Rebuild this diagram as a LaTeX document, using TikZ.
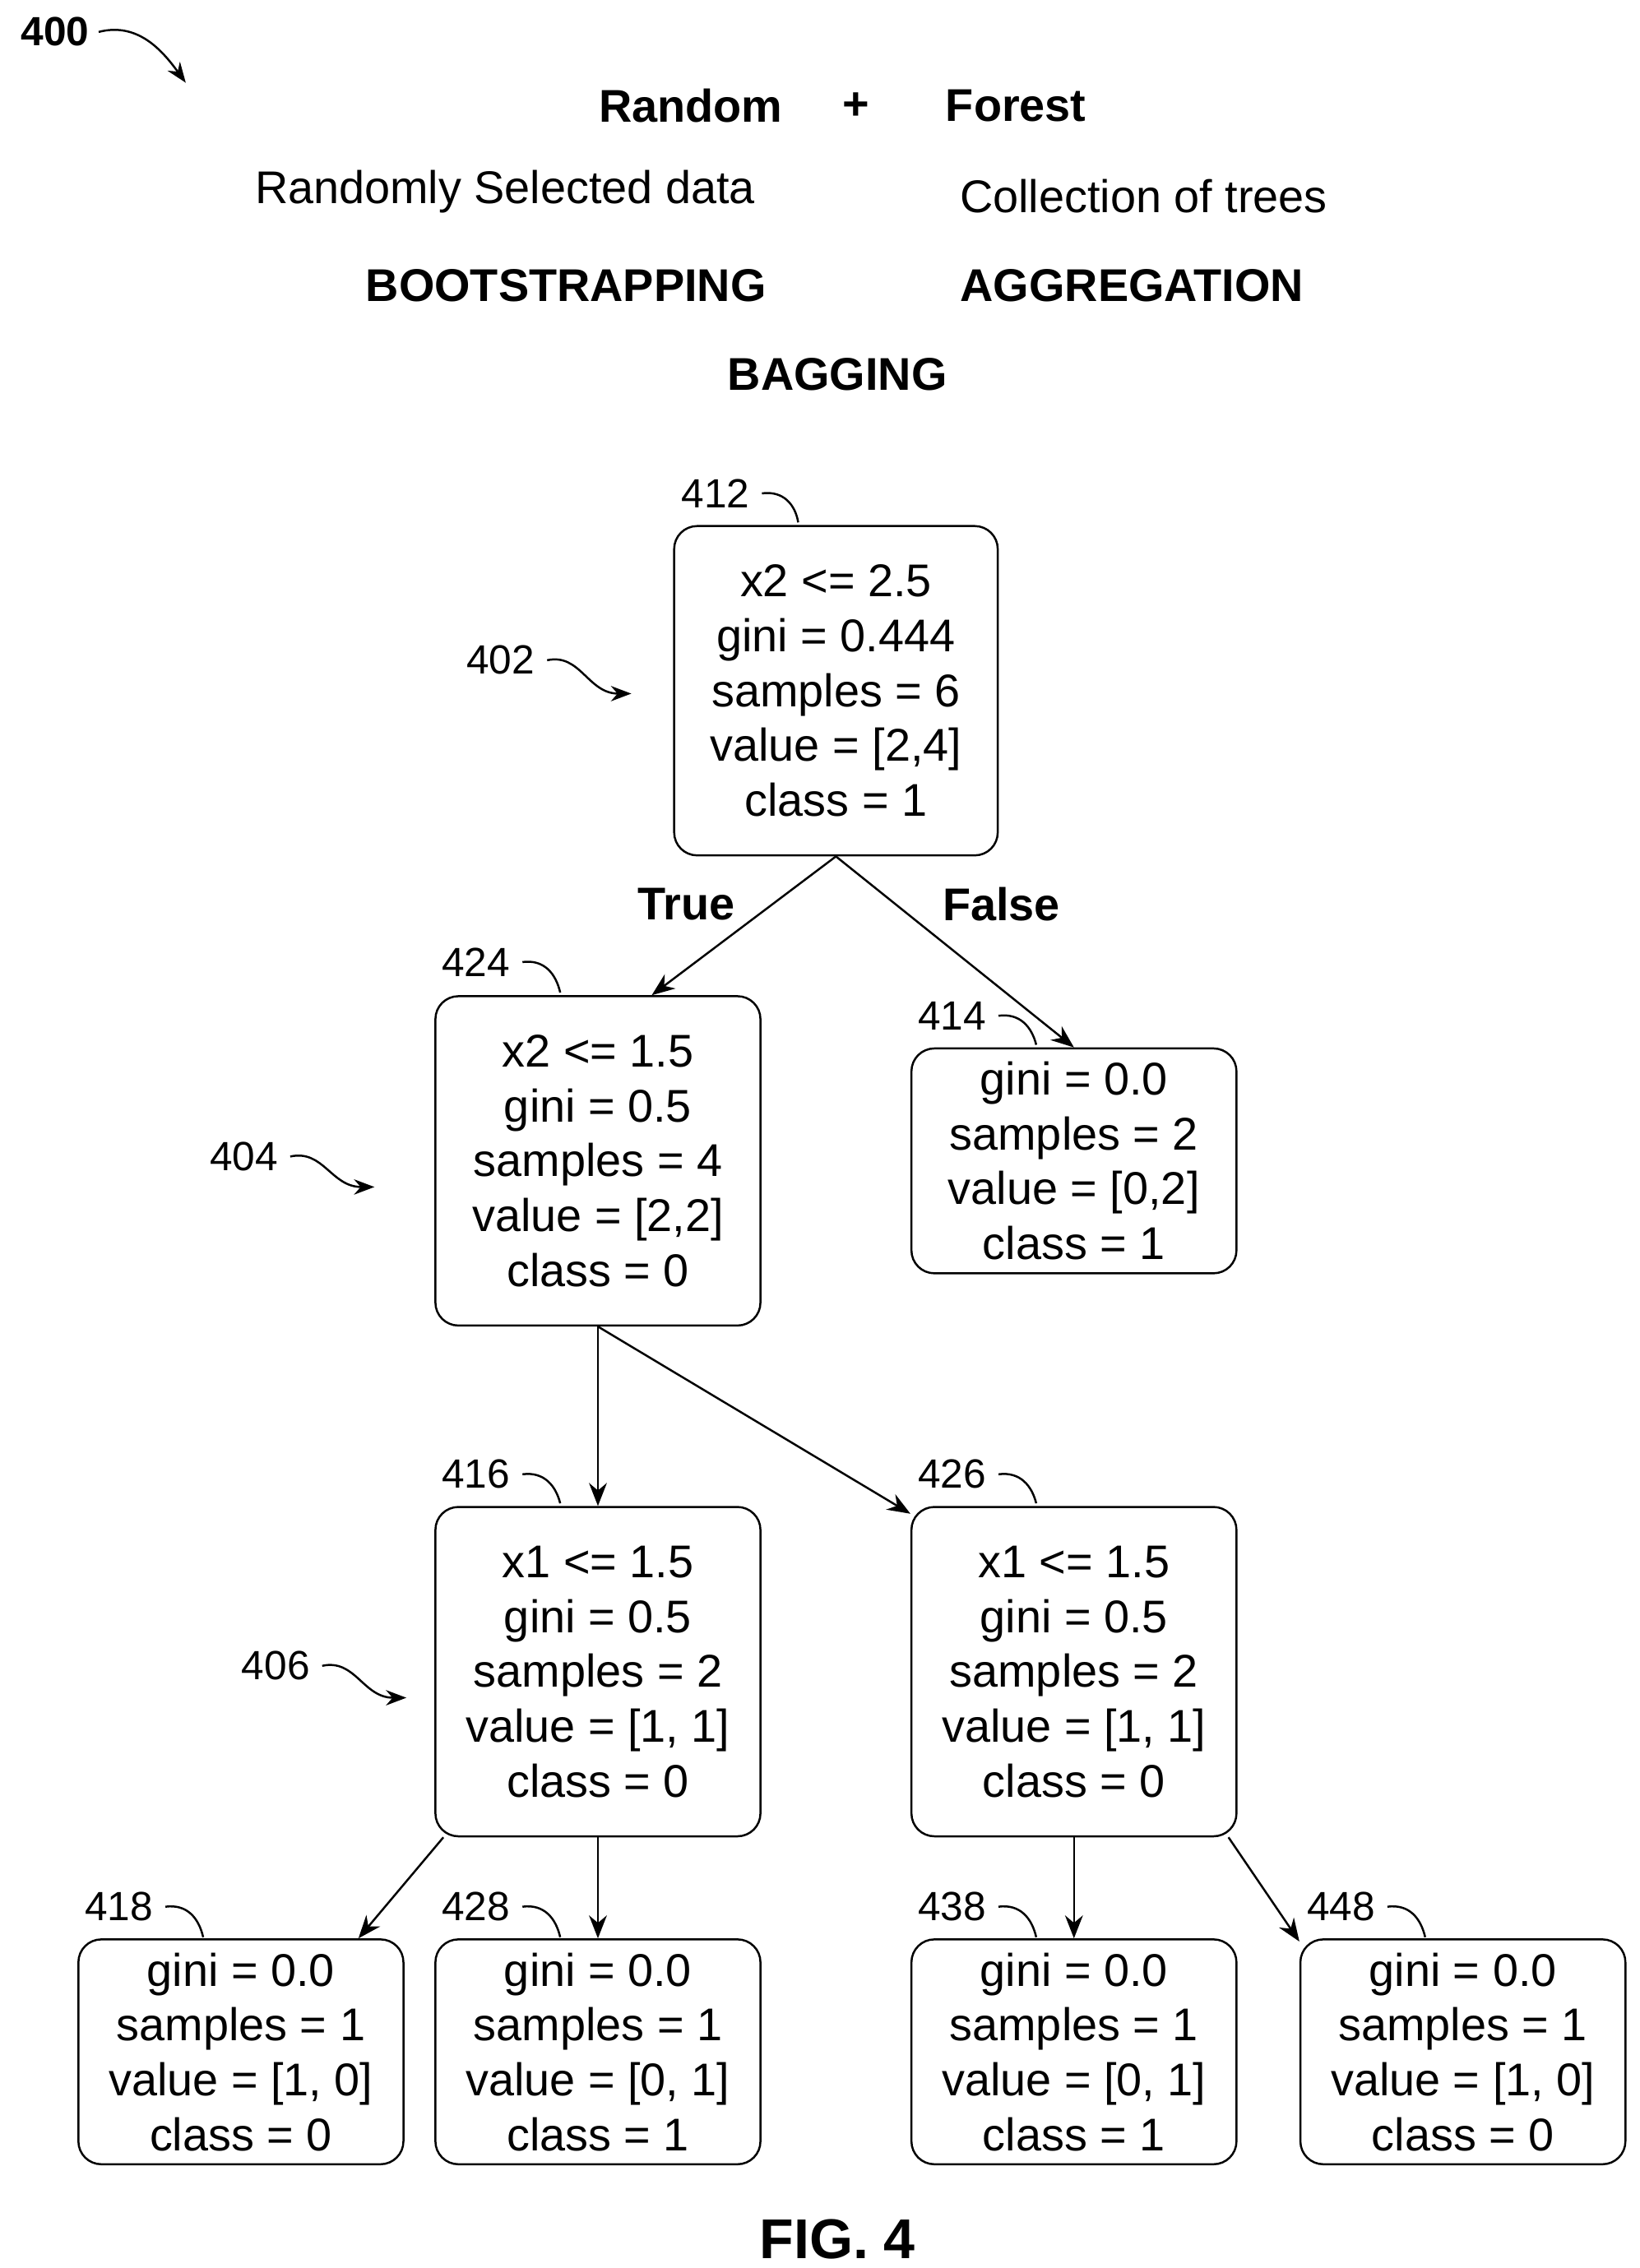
\documentclass[tikz,border=0pt]{standalone}
\usepackage{fontspec}
\setmainfont{Liberation Sans}
\usetikzlibrary{arrows.meta}
\tikzset{
  box/.style={draw,thick,rounded corners=9pt,align=center,minimum width=4.48cm,
    font=\fontsize{18}{21.5}\selectfont,inner sep=0pt},
  tall/.style={box,minimum height=4.54cm},
  leaf/.style={box,minimum height=3.1cm},
  edge/.style={thick,-{Stealth[length=9pt,width=7pt]}},
  head/.style={font=\fontsize{18}{21}\selectfont},
  bhead/.style={font=\fontsize{18}{21}\selectfont\bfseries},
  refnum/.style={font=\fontsize{16}{18}\selectfont},
  lead/.style={thick},
  wavy/.style={thick,-{Stealth[length=8pt,width=6pt]}}
}
\begin{document}
\begin{tikzpicture}[x=0.02cm,y=-0.02cm]
\useasboundingbox (0,0) rectangle (1130,1563);
% header
\node[bhead] (rnd) at (476,73) {Random};
\node[bhead] (plus) at (590,73) {+};
\node[bhead] (frs) at (700,73) {Forest};
\node[head] (rsd) at (348,132) {Randomly Selected data};
\node[head] (cot) at (788,135) {Collection of trees};
\node[bhead] (boot) at (390,197) {BOOTSTRAPPING};
\node[bhead] (aggr) at (780,197) {AGGREGATION};
\node[bhead] (bag) at (577,258) {BAGGING};
\node[refnum,font=\fontsize{16}{18}\selectfont\bfseries] (f400) at (38,22) {400};
\draw[wavy] (68,22) .. controls (95,15) and (112,35) .. (128,57);
% tree
\node[tall,minimum width=4.46cm] (n412) at (576,476) {x2 <= 2.5\\gini = 0.444\\samples = 6\\value = [2,4]\\class = 1};
\node[tall] (n424) at (412,800) {x2 <= 1.5\\gini = 0.5\\samples = 4\\value = [2,2]\\class = 0};
\node[leaf] (n414) at (740,800) {gini = 0.0\\samples = 2\\value = [0,2]\\class = 1};
\node[tall] (n416) at (412,1152) {x1 <= 1.5\\gini = 0.5\\samples = 2\\value = [1, 1]\\class = 0};
\node[tall] (n426) at (740,1152) {x1 <= 1.5\\gini = 0.5\\samples = 2\\value = [1, 1]\\class = 0};
\node[leaf] (n418) at (166,1414) {gini = 0.0\\samples = 1\\value = [1, 0]\\class = 0};
\node[leaf] (n428) at (412,1414) {gini = 0.0\\samples = 1\\value = [0, 1]\\class = 1};
\node[leaf] (n438) at (740,1414) {gini = 0.0\\samples = 1\\value = [0, 1]\\class = 1};
\node[leaf] (n448) at (1008,1414) {gini = 0.0\\samples = 1\\value = [1, 0]\\class = 0};
\draw[edge] (n412.south) -- (n424.72);
\draw[edge] (n412.south) -- (n414.north);
\draw[edge] (n424.south) -- (n416.north);
\draw[edge] (n424.south) -- (n426.136);
\draw[edge] (n416.227) -- (n418.44);
\draw[edge] (n416.south) -- (n428.north);
\draw[edge] (n426.south) -- (n438.north);
\draw[edge] (n426.313) -- (n448.146);
\node[bhead] (tru) at (473,623) {True};
\node[bhead] (fls) at (690,623) {False};
% reference numerals
\node[refnum] (r412) at (493,340) {412};
\draw[lead] (525,340) .. controls (540,338) and (548,348) .. (550,360);
\node[refnum] (r424) at (328,663) {424};
\draw[lead] (360,663) .. controls (375,661) and (383,671) .. (386,684);
\node[refnum] (r414) at (656,700) {414};
\draw[lead] (688,700) .. controls (703,698) and (711,708) .. (714,720);
\node[refnum] (r416) at (328,1016) {416};
\draw[lead] (360,1016) .. controls (375,1014) and (383,1024) .. (386,1036);
\node[refnum] (r426) at (656,1016) {426};
\draw[lead] (688,1016) .. controls (703,1014) and (711,1024) .. (714,1036);
\node[refnum] (r418) at (82,1314) {418};
\draw[lead] (114,1314) .. controls (129,1312) and (137,1322) .. (140,1335);
\node[refnum] (r428) at (328,1314) {428};
\draw[lead] (360,1314) .. controls (375,1312) and (383,1322) .. (386,1335);
\node[refnum] (r438) at (656,1314) {438};
\draw[lead] (688,1314) .. controls (703,1312) and (711,1322) .. (714,1335);
\node[refnum] (r448) at (924,1314) {448};
\draw[lead] (956,1314) .. controls (971,1312) and (979,1322) .. (982,1335);
\node[refnum] (r402) at (345,455) {402};
\draw[wavy] (377,455) .. controls (400,450) and (405,478) .. (435,478);
\node[refnum] (r404) at (168,797) {404};
\draw[wavy] (200,797) .. controls (223,792) and (228,818) .. (258,818);
\node[refnum] (r406) at (190,1148) {406};
\draw[wavy] (222,1148) .. controls (245,1143) and (250,1170) .. (280,1170);
\node[font=\fontsize{22}{26}\selectfont\bfseries] (fig) at (577,1543) {FIG. 4};
\end{tikzpicture}
\end{document}
